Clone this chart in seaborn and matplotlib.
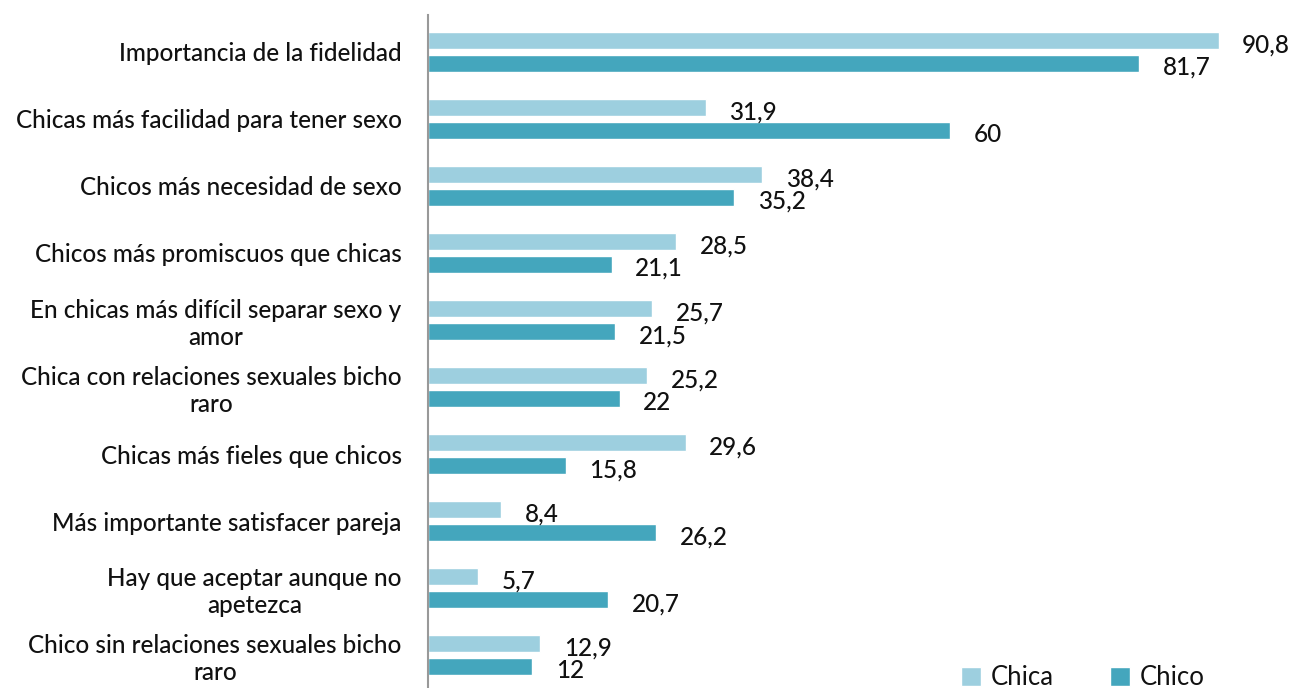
import pandas as pd
import matplotlib
matplotlib.use("Agg")
import matplotlib.pyplot as plt
import seaborn as sns

# data
categories = [
    "Importancia de la fidelidad",
    "Chicas más facilidad para tener sexo",
    "Chicos más necesidad de sexo",
    "Chicos más promiscuos que chicas",
    "En chicas más difícil separar sexo y\namor",
    "Chica con relaciones sexuales bicho\nraro",
    "Chicas más fieles que chicos",
    "Más importante satisfacer pareja",
    "Hay que aceptar aunque no\napetezca",
    "Chico sin relaciones sexuales bicho\nraro",
]
chica = [90.8, 31.9, 38.4, 28.5, 25.7, 25.2, 29.6, 8.4, 5.7, 12.9]
chico = [81.7, 60, 35.2, 21.1, 21.5, 22, 15.8, 26.2, 20.7, 12]
series = ["Chica", "Chico"]
colors = ["#9DCFDF", "#44A6BD"]

df = pd.DataFrame({
    "cat": categories * 2,
    "value": chica + chico,
    "serie": [series[0]] * len(chica) + [series[1]] * len(chico),
})

sns.set_style("white")
plt.rcParams["font.family"] = ["Lato", "DejaVu Sans"]

fig = plt.figure(figsize=(12.9, 6.88), dpi=100)
ax = fig.add_axes([428 / 1290, 0, 1 - 428 / 1290, 1 - 15 / 688])

sns.barplot(data=df, y="cat", x="value", hue="serie", order=categories,
            hue_order=series, palette=colors, orient="h",
            width=0.68, gap=0.25, saturation=1, ax=ax)

# value labels, comma decimals
for cont in ax.containers:
    for bar in cont:
        v = bar.get_width()
        txt = f"{v:g}".replace(".", ",")
        ax.annotate(txt, (v, bar.get_y() + bar.get_height() / 2),
                    xytext=(17, -3), textcoords="offset points",
                    ha="left", va="center", fontsize=17.5, color="#111111",
                    fontweight="medium")

ax.set_xlim(0, 99)
ax.set_ylim(9.49, -0.55)
ax.set_xlabel("")
ax.set_ylabel("")
ax.set_xticks([])
ax.tick_params(axis="y", length=0, pad=19, labelsize=17.5)
for lab in ax.get_yticklabels():
    lab.set_multialignment("center")
    lab.set_color("#111111")
    lab.set_fontweight("medium")
    lab.set_linespacing(1.22)

for side in ["top", "right", "bottom"]:
    ax.spines[side].set_visible(False)
ax.spines["left"].set_color("#999999")
ax.spines["left"].set_linewidth(1.5)

leg = ax.legend(loc="lower right", bbox_to_anchor=(0.928, -0.038), ncol=2,
                frameon=False, fontsize=18.5, handlelength=0.75,
                handleheight=0.75, columnspacing=2.2, handletextpad=0.4)
for t in leg.get_texts():
    t.set_color("#111111")

fig.savefig("out.png", dpi=100)
